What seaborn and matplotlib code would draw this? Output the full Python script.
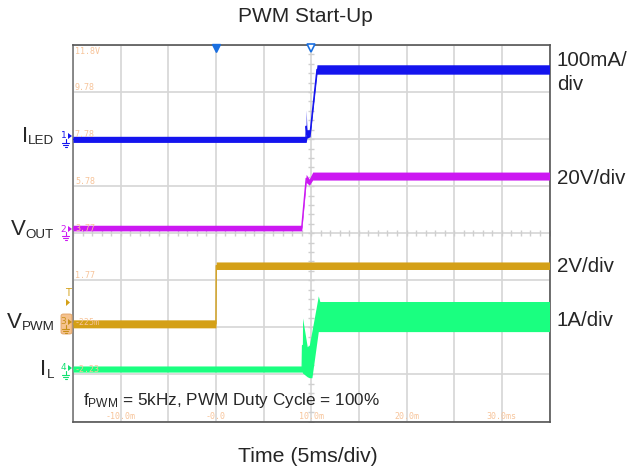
import numpy as np
import pandas as pd
import matplotlib
matplotlib.use("Agg")
import matplotlib.pyplot as plt
import seaborn as sns
from matplotlib.lines import Line2D
from matplotlib.patches import FancyBboxPatch, Polygon

# ---------------- data (time in ms, amplitude in screen divisions) ----------------
iled_t  = [-15.0, 9.45, 9.47, 9.55, 9.88, 10.60, 35.0]
iled_lo = [5.93, 5.93, 5.93, 6.02, 6.05, 7.38, 7.38]
iled_hi = [6.06, 6.06, 6.62, 6.20, 6.20, 7.58, 7.58]

vout_t  = [-15.0, 9.00, 9.47, 9.80, 10.15, 35.0]
vout_lo = [4.05, 4.05, 5.08, 5.02, 5.13, 5.13]
vout_hi = [4.17, 4.17, 5.25, 5.15, 5.30, 5.30]

vpwm_t  = [-15.0, 0.0, 0.03, 35.0]
vpwm_lo = [1.99, 1.99, 3.23, 3.23]
vpwm_hi = [2.16, 2.16, 3.39, 3.39]

il_t  = [-15.0, 9.05, 9.09, 9.58, 9.79, 10.07, 10.74, 10.90, 35.0]
il_lo = [1.05, 1.05, 1.03, 0.95, 0.93, 0.93, 1.91, 1.91, 1.91]
il_hi = [1.18, 1.18, 2.20, 1.59, 1.62, 1.92, 2.67, 2.55, 2.55]

scope_labels = ["11.8V", "9.78", "7.78", "5.78", "3.77", "1.77", "-225m", "-2.23"]
time_ticks = [-10, 0, 10, 20, 30]
time_labels = ["-10.0m", "-0.0", "10.0m", "20.0m", "30.0ms"]

C_BLUE = "#1414ee"
C_MAG = "#cc18f2"
C_GOLD = "#d4a017"
C_GREEN = "#1aff80"
C_PEACH = "#f7c49a"

# ---------------- style ----------------
sns.set_style("white")
plt.rcParams["font.family"] = ["Liberation Sans", "DejaVu Sans"]

W, H = 631, 471
fig = plt.figure(figsize=(W / 100, H / 100), dpi=100)


def P(x, y):
    return x / W, 1 - y / H


L, R, T, B = 73, 549.5, 45, 421.5
ax = fig.add_axes([L / W, 1 - B / H, (R - L) / W, (B - T) / H])
ax.set_xlim(-15, 35)
ax.set_ylim(0, 8)
ax.set_xticks(np.arange(-15, 36, 5))
ax.set_yticks(np.arange(0, 9, 1))
ax.grid(True, color="#d6d6d6", lw=1.2, zorder=0)
ax.tick_params(length=0, labelbottom=False, labelleft=False)
for s in ax.spines.values():
    s.set_color("#555555")
    s.set_linewidth(1.2)
ax.spines["left"].set_color("#777777")

# center crosshair minor ticks
ym = np.arange(0, 8.01, 0.2)
ax.plot([10] * len(ym), ym, ls="none", marker="_", ms=4, mew=1, color="#cfcfcf", zorder=1)
xm = np.arange(-15, 35.01, 1.0)
ax.plot(xm, [4] * len(xm), ls="none", marker="|", ms=4, mew=1, color="#cfcfcf", zorder=1)


def trace(t, lo, hi, color):
    df = pd.DataFrame({"t": list(t) * 2, "v": list(lo) + list(hi)})
    sns.lineplot(data=df, x="t", y="v", estimator="mean",
                 errorbar=lambda v: (v.min(), v.max()),
                 err_kws={"alpha": 1.0, "linewidth": 0, "zorder": 3},
                 color=color, lw=1.0, ax=ax, zorder=3, legend=False)


trace(vpwm_t, vpwm_lo, vpwm_hi, C_GOLD)
trace(il_t, il_lo, il_hi, C_GREEN)
trace(vout_t, vout_lo, vout_hi, C_MAG)
trace(iled_t, iled_lo, iled_hi, C_BLUE)
ax.set_xlabel("")
ax.set_ylabel("")

# scope amplitude labels
for k, lab in enumerate(scope_labels):
    yv = 8 - k
    yy = yv - 0.14 if k == 0 else yv + 0.1
    ax.text(-14.8, yy, lab, family="DejaVu Sans Mono", fontsize=6, color=C_PEACH,
            ha="left", va="center", zorder=5)
for tv, lab in zip(time_ticks, time_labels):
    ax.text(tv, 0.11, lab, family="DejaVu Sans Mono", fontsize=6, color=C_PEACH,
            ha="center", va="center", zorder=5)

# top markers
ax.plot([0], [7.93], marker="v", ms=6, color="#1a6fe0", clip_on=False, zorder=6)
ax.plot([10], [7.93], marker="v", ms=6, mfc="white", mec="#1a6fe0", mew=1.2,
        clip_on=False, zorder=6)

# annotation
ax.text(-14.0, 0.45, r"$\mathregular{f_{PWM}}$ = 5kHz, PWM Duty Cycle = 100%",
        fontsize=12.3, ha="left", va="center", zorder=6)

# titles
fig.text(*P(305.5, 17), "PWM Start-Up", ha="center", va="center", fontsize=15)
fig.text(*P(307.5, 457), "Time (5ms/div)", ha="center", va="center", fontsize=15.3)

# right labels
RFS = 14.8
fig.text(*P(557, 60), "100mA/", ha="left", va="center", fontsize=RFS)
fig.text(*P(557, 85), "div", ha="left", va="center", fontsize=RFS)
fig.text(*P(557, 178), "20V/div", ha="left", va="center", fontsize=RFS)
fig.text(*P(557, 266), "2V/div", ha="left", va="center", fontsize=RFS)
fig.text(*P(557, 321), "1A/div", ha="left", va="center", fontsize=RFS)

# left labels: main letter + subscript
renderer = fig.canvas.get_renderer()


def sublabel(main, sub, xr, yb):
    s = fig.text(*P(xr, yb + 2.5), sub, ha="right", va="baseline", fontsize=9.6)
    bb = s.get_window_extent(renderer=renderer)
    fig.text(bb.x0 / W, 1 - yb / H, main, ha="right", va="baseline", fontsize=16)


sublabel("I", "LED", 54, 142)
sublabel("V", "OUT", 54, 235)
sublabel("V", "PWM", 55, 328)
sublabel("I", "L", 54, 375)


# channel markers
def ground(x, y, color):
    segs = [((x, y - 4), (x, y)), ((x - 3.5, y), (x + 3.5, y)),
            ((x - 2.3, y + 2), (x + 2.3, y + 2)), ((x - 1, y + 4), (x + 1, y + 4))]
    for (a, b) in segs:
        fig.add_artist(Line2D([P(*a)[0], P(*b)[0]], [P(*a)[1], P(*b)[1]],
                              color=color, lw=0.8))


def chan(num, y, color, box=False):
    if box:
        fig.add_artist(FancyBboxPatch(P(61, 334), 11 / W, 20 / H,
                                      boxstyle="round,pad=0,rounding_size=0.004",
                                      fc="#f5c28e", ec="#e0a060", lw=0.6))
    fig.text(*P(63.5, y - 1), num, color=color, fontsize=6.5, ha="center", va="center",
             family="DejaVu Sans")
    tri = Polygon([P(68, y - 4), P(68, y + 2), P(72, y - 1)], closed=True,
                  fc=color, ec="none")
    fig.add_artist(tri)
    ground(65.5, y + 6, color)


chan("1", 137, C_BLUE)
chan("2", 230, C_MAG)
chan("3", 323, "#c8901a", box=True)
chan("4", 369, "#10e070")

# trigger marker
fig.text(*P(67.5, 293), "T", color=C_GOLD, fontsize=7, ha="center", va="center",
         family="DejaVu Sans")
fig.add_artist(Polygon([P(66, 299), P(66, 306), P(70, 302.5)], closed=True,
                       fc=C_GOLD, ec="none"))

fig.savefig("out.png", dpi=100)
